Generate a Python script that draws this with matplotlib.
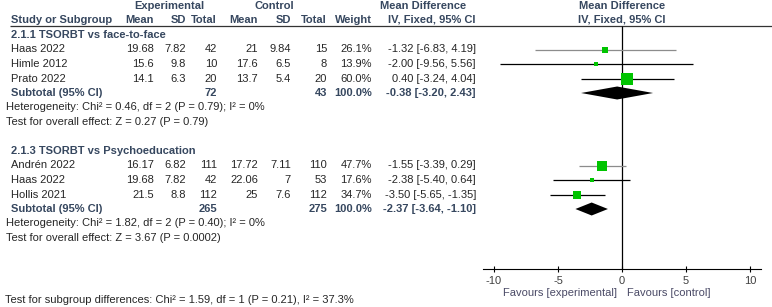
import matplotlib.pyplot as plt

plt.rcParams['font.family'] = ['Liberation Sans', 'DejaVu Sans']
plt.rcParams['axes.unicode_minus'] = False

# ---------- DATA ----------
g1_title = "2.1.1 TSORBT vs face-to-face"
g1_studies = ["Haas 2022", "Himle 2012", "Prato 2022"]
g1_exp_mean = [19.68, 15.6, 14.1]
g1_exp_sd = [7.82, 9.8, 6.3]
g1_exp_n = [42, 10, 20]
g1_ctl_mean = [21, 17.6, 13.7]
g1_ctl_sd = [9.84, 6.5, 5.4]
g1_ctl_n = [15, 8, 20]
g1_weight = [26.1, 13.9, 60.0]
g1_md = [-1.32, -2.00, 0.40]
g1_lo = [-6.83, -9.56, -3.24]
g1_hi = [4.19, 5.56, 4.04]
g1_sub = dict(exp_n=72, ctl_n=43, md=-0.38, lo=-3.20, hi=2.43)
g1_het = "Heterogeneity: Chi² = 0.46, df = 2 (P = 0.79); I² = 0%"
g1_overall = "Test for overall effect: Z = 0.27 (P = 0.79)"

g2_title = "2.1.3 TSORBT vs Psychoeducation"
g2_studies = ["Andrén 2022", "Haas 2022", "Hollis 2021"]
g2_exp_mean = [16.17, 19.68, 21.5]
g2_exp_sd = [6.82, 7.82, 8.8]
g2_exp_n = [111, 42, 112]
g2_ctl_mean = [17.72, 22.06, 25]
g2_ctl_sd = [7.11, 7, 7.6]
g2_ctl_n = [110, 53, 112]
g2_weight = [47.7, 17.6, 34.7]
g2_md = [-1.55, -2.38, -3.50]
g2_lo = [-3.39, -5.40, -5.65]
g2_hi = [0.29, 0.64, -1.35]
g2_sub = dict(exp_n=265, ctl_n=275, md=-2.37, lo=-3.64, hi=-1.10)
g2_het = "Heterogeneity: Chi² = 1.82, df = 2 (P = 0.40); I² = 0%"
g2_overall = "Test for overall effect: Z = 3.67 (P = 0.0002)"

subgroup_diff = "Test for subgroup differences: Chi² = 1.59, df = 1 (P = 0.21), I² = 37.3%"
x_ticks = [-10, -5, 0, 5, 10]
fav_left = "Favours [experimental]"
fav_right = "Favours [control]"

# ---------- STYLE ----------
W, H = 772, 307
FS = 8
TXT = "#262626"
HDR = "#36475f"
FAV = "#4a4a66"
TICK_TXT = "#404040"
GREEN = "#00c400"
GRAY_CI = "#8c8c8c"
ROW = 14.5

groups = [
    dict(title=g1_title, studies=g1_studies, em=g1_exp_mean, esd=g1_exp_sd, en=g1_exp_n,
         cm=g1_ctl_mean, csd=g1_ctl_sd, cn=g1_ctl_n, w=g1_weight, md=g1_md, lo=g1_lo, hi=g1_hi,
         sub=g1_sub, het=g1_het, overall=g1_overall, y0=35, ci_col=[GRAY_CI, "black", "black"]),
    dict(title=g2_title, studies=g2_studies, em=g2_exp_mean, esd=g2_exp_sd, en=g2_exp_n,
         cm=g2_ctl_mean, csd=g2_ctl_sd, cn=g2_ctl_n, w=g2_weight, md=g2_md, lo=g2_lo, hi=g2_hi,
         sub=g2_sub, het=g2_het, overall=g2_overall, y0=35 + 8 * ROW, ci_col=[GRAY_CI, "black", "black"]),
]

# column right edges (px)
COL = dict(em=154, esd=186, en=217, cm=258, csd=291, cn=327, w=372, ci=476)
AXIS_Y = 269
HDR_LINE_Y = 25.5

fig = plt.figure(figsize=(W / 100, H / 100), dpi=100)
tax = fig.add_axes([0, 0, 1, 1])
tax.set_xlim(0, W)
tax.set_ylim(H, 0)
tax.axis('off')

fax = fig.add_axes([483 / W, 0, (761 - 483) / W, 1])
fax.set_xlim(-10.86, 10.86)
fax.set_ylim(H, 0)
fax.patch.set_visible(False)
for s in ['top', 'left', 'right']:
    fax.spines[s].set_visible(False)
fax.spines['bottom'].set_position(('data', AXIS_Y))
fax.spines['bottom'].set_linewidth(0.8)
fax.set_yticks([])
fax.set_xticks(x_ticks, [f"{t:g}" for t in x_ticks])
fax.tick_params(axis='x', direction='inout', length=4.5, width=0.8, pad=3,
                labelsize=FS, labelcolor=TICK_TXT)


def t(x, y, s, ha='left', bold=False, color=None):
    tax.text(x, y, s, ha=ha, va='center', fontsize=FS,
             fontweight='bold' if bold else 'normal',
             color=color or (HDR if bold else TXT))


def fmt_ci(md, lo, hi):
    return f"{md:.2f} [{lo:.2f}, {hi:.2f}]"


# header
t(169, 6, "Experimental", ha='center', bold=True)
t(274, 6, "Control", ha='center', bold=True)
t(423, 6, "Mean Difference", ha='center', bold=True)
t(622, 6, "Mean Difference", ha='center', bold=True)
hy = 20
t(11, hy, "Study or Subgroup", bold=True)
for key, lab in [('em', "Mean"), ('esd', "SD"), ('en', "Total"), ('cm', "Mean"),
                 ('csd', "SD"), ('cn', "Total"), ('w', "Weight")]:
    t(COL[key], hy, lab, ha='right', bold=True)
t(432, hy, "IV, Fixed, 95% CI", ha='center', bold=True)
t(622, hy, "IV, Fixed, 95% CI", ha='center', bold=True)
tax.hlines(HDR_LINE_Y, 10, W, color="#333333", lw=0.9)

# zero line
fax.vlines(0, HDR_LINE_Y, AXIS_Y, color="black", lw=0.9)

for g in groups:
    y = g['y0']
    t(11, y, g['title'], bold=True)
    for i, name in enumerate(g['studies']):
        yi = y + ROW * (i + 1)
        t(11, yi, name)
        t(COL['em'], yi, f"{g['em'][i]:g}", ha='right')
        t(COL['esd'], yi, f"{g['esd'][i]:g}", ha='right')
        t(COL['en'], yi, f"{g['en'][i]}", ha='right')
        t(COL['cm'], yi, f"{g['cm'][i]:g}", ha='right')
        t(COL['csd'], yi, f"{g['csd'][i]:g}", ha='right')
        t(COL['cn'], yi, f"{g['cn'][i]}", ha='right')
        t(COL['w'], yi, f"{g['w'][i]:.1f}%", ha='right')
        t(COL['ci'], yi, fmt_ci(g['md'][i], g['lo'][i], g['hi'][i]), ha='right')
        fax.hlines(yi, g['lo'][i], g['hi'][i], color=g['ci_col'][i], lw=0.9)
        side_px = 1.5 + 0.16 * g['w'][i]
        fax.plot(g['md'][i], yi, marker='s', ms=side_px * 0.72, color=GREEN,
                 mec=GREEN, mew=0, zorder=3)
    ys = y + ROW * 4
    sub = g['sub']
    t(11, ys, "Subtotal (95% CI)", bold=True)
    t(COL['en'], ys, f"{sub['exp_n']}", ha='right', bold=True)
    t(COL['cn'], ys, f"{sub['ctl_n']}", ha='right', bold=True)
    t(COL['w'], ys, "100.0%", ha='right', bold=True)
    t(COL['ci'], ys, fmt_ci(sub['md'], sub['lo'], sub['hi']), ha='right', bold=True)
    dh = 6.5
    fax.fill([sub['lo'], sub['md'], sub['hi'], sub['md']],
             [ys, ys - dh, ys, ys + dh], color="black", lw=0, zorder=3)
    t(6, y + ROW * 5, g['het'])
    t(6, y + ROW * 6, g['overall'])

t(617, 293, fav_left, ha='right', color=FAV)
t(627, 293, fav_right, ha='left', color=FAV)
t(5, 300, subgroup_diff)

fig.savefig("out.png", dpi=100)
